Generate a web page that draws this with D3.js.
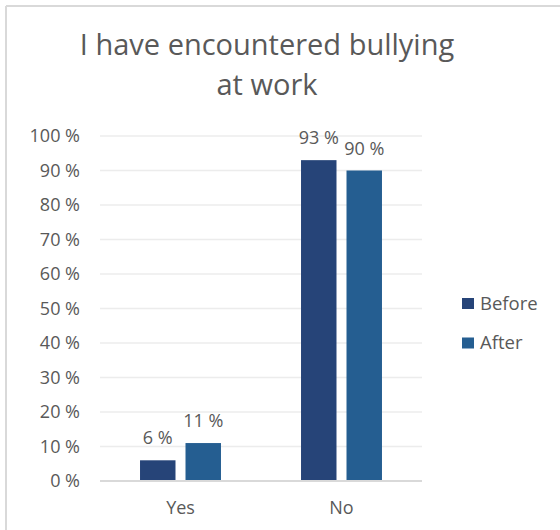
<!DOCTYPE html>
<html>
<head>
<meta charset="utf-8">
<script src="https://cdn.jsdelivr.net/npm/d3@7/dist/d3.min.js"></script>
<style>
  html, body { margin: 0; padding: 0; background: #fff; }
  svg { display: block; font-family: "Open Sans", "Noto Sans", sans-serif; }
</style>
</head>
<body>
<svg id="chart" width="560" height="530"></svg>
<script>
// Survey answers, share of respondents (%)
const categories = ["Yes", "No"];
const seriesNames = ["Before", "After"];
const beforeValues = [6, 93];
const afterValues = [11, 90];
const yTicks = [0, 10, 20, 30, 40, 50, 60, 70, 80, 90, 100];
const titleLines = ["I have encountered bullying", "at work"];
const colors = ["#264478", "#255e91"];

const series = [beforeValues, afterValues];
const rows = categories.map((c, i) => ({
  category: c,
  values: seriesNames.map((s, j) => ({ series: s, value: series[j][i], idx: j }))
}));

const svg = d3.select("#chart");
const textColor = "#595959";
const labelSize = 18;

// chart frame (top and left edges)
svg.append("line").attr("x1", 6).attr("x2", 560).attr("y1", 6).attr("y2", 6)
  .attr("stroke", "#d9d9d9").attr("stroke-width", 2);
svg.append("line").attr("x1", 6).attr("x2", 6).attr("y1", 6).attr("y2", 530)
  .attr("stroke", "#d9d9d9").attr("stroke-width", 2);

// title
svg.append("text")
  .attr("x", 267).attr("y", 55)
  .attr("text-anchor", "middle")
  .attr("fill", textColor)
  .attr("font-size", 29)
  .selectAll("tspan").data(titleLines).join("tspan")
  .attr("x", 267)
  .attr("dy", (d, i) => i === 0 ? 0 : 40)
  .text(d => d);

const plot = { left: 100, right: 422, top: 136, bottom: 481 };

const x0 = d3.scaleBand().domain(categories).range([plot.left, plot.right]).paddingInner(0).paddingOuter(0);
const x1 = d3.scaleBand().domain(seriesNames).range([0, x0.bandwidth()]).paddingInner(0.22).paddingOuter(0.88);
const y = d3.scaleLinear().domain([0, 100]).range([plot.bottom, plot.top]);

// gridlines
svg.append("g").selectAll("line").data(yTicks.filter(t => t > 0)).join("line")
  .attr("x1", plot.left).attr("x2", plot.right)
  .attr("y1", d => y(d)).attr("y2", d => y(d))
  .attr("stroke", "#ececec").attr("stroke-width", 1.5);

// y axis labels
const yAxis = d3.axisLeft(y).tickValues(yTicks).tickFormat(d => d + " %").tickSize(0).tickPadding(0);
const yg = svg.append("g").attr("transform", `translate(80,0)`).call(yAxis);
yg.select(".domain").remove();
yg.selectAll("text").attr("fill", textColor).attr("font-size", labelSize)
  .attr("font-family", "\"Open Sans\", sans-serif");

// bars
const groups = svg.append("g").selectAll("g").data(rows).join("g")
  .attr("transform", d => `translate(${x0(d.category)},0)`);

groups.selectAll("rect").data(d => d.values).join("rect")
  .attr("x", d => x1(d.series))
  .attr("width", x1.bandwidth())
  .attr("y", d => y(d.value))
  .attr("height", d => y(0) - y(d.value))
  .attr("fill", d => colors[d.idx]);

// value labels
groups.selectAll("text").data(d => d.values).join("text")
  .attr("x", d => x1(d.series) + x1.bandwidth() / 2)
  .attr("y", d => y(d.value) - 16)
  .attr("text-anchor", "middle")
  .attr("fill", textColor)
  .attr("font-size", labelSize)
  .text(d => d.value + " %");

// baseline
svg.append("line").attr("x1", plot.left).attr("x2", plot.right)
  .attr("y1", y(0)).attr("y2", y(0))
  .attr("stroke", "#d9d9d9").attr("stroke-width", 2);

// category axis
const xAxis = d3.axisBottom(x0).tickSize(0).tickPadding(0);
const xg = svg.append("g").attr("transform", `translate(0,${plot.bottom + 20})`).call(xAxis);
xg.select(".domain").remove();
xg.selectAll("text").attr("fill", textColor).attr("font-size", labelSize)
  .attr("font-family", "\"Open Sans\", sans-serif");

// legend
const legend = svg.append("g").selectAll("g").data(seriesNames).join("g")
  .attr("transform", (d, i) => `translate(462,${298 + i * 39.5})`);
legend.append("rect").attr("width", 12).attr("height", 11).attr("fill", (d, i) => colors[i]);
legend.append("text").attr("x", 18).attr("y", 11.5)
  .attr("fill", textColor).attr("font-size", 18.5).text(d => d);
</script>
</body>
</html>
